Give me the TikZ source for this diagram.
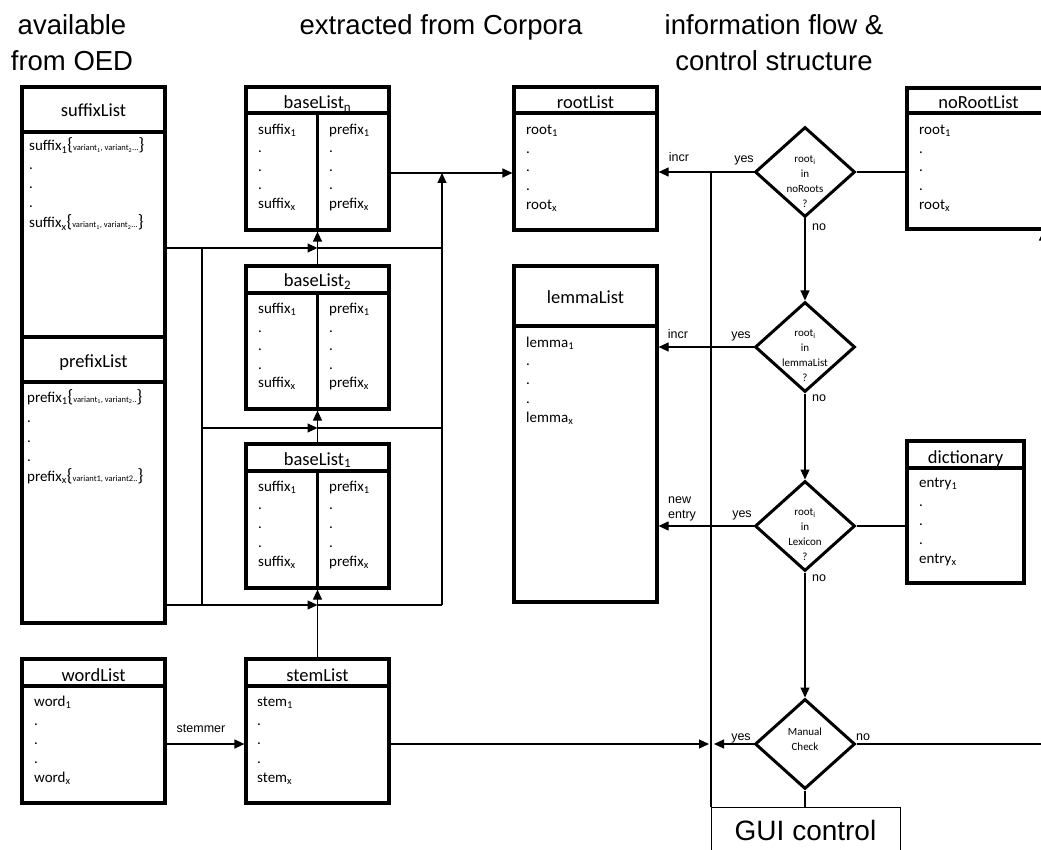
\documentclass[tikz,border=0pt]{standalone}
\usepackage{fontspec}
\setmainfont{Carlito}
\newfontfamily\arialf{Liberation Sans}
\usetikzlibrary{arrows.meta,shapes.geometric}
\newcommand\sbs[1]{\textsubscript{#1}}
\newcommand\varlist[1]{{\fontsize{18}{18}\selectfont\{}{\fontsize{8.5}{10}\selectfont #1}{\fontsize{18}{18}\selectfont\}}}
\newcommand\mkitems[5]{\foreach \t [count=\k from 0] in {#5} {\node[itm] (#1-\k) at (#2, #3+#4*\k) {\t};}}
\tikzset{
 lbox/.style={draw, line width=3.2pt, inner sep=0pt},
 divline/.style={line width=3.2pt},
 conn/.style={line width=1.2pt},
 arr/.style={conn, -{Triangle[length=10pt,width=9pt]}},
 ttl/.style={font=\fontsize{18.5}{20}\selectfont, inner sep=0pt, anchor=base},
 itm/.style={font=\fontsize{15}{18}\selectfont, inner sep=0pt, anchor=base west},
 lbl/.style={font=\arialf\fontsize{12.5}{15}\selectfont, inner sep=0pt, anchor=base},
 head/.style={font=\arialf\fontsize{27.5}{30}\selectfont, inner sep=0pt, anchor=base},
 dia/.style={draw, diamond, line width=3pt, minimum width=100pt, minimum height=90pt, inner sep=0pt},
 diatxt/.style={font=\fontsize{11}{15}\selectfont, align=center, inner sep=0pt},
}
\begin{document}
\begin{tikzpicture}[x=1pt,y=-1pt]
\useasboundingbox (0,0) rectangle (1041,850);
\fill[white] (0,0) rectangle (1041,850);

% headings
\node[head] (hA) at (72,35) {available};
\node[head] (hB) at (72,71) {from OED};
\node[head] (hC) at (441,35) {extracted from Corpora};
\node[head] (hD) at (774,35) {information flow \&};
\node[head] (hE) at (774,71) {control structure};

% suffixList / prefixList
\node[lbox, minimum width=143pt, minimum height=250pt] (suffixList) at (93.5,212) {};
\node[lbox, minimum width=143pt, minimum height=286pt] (prefixList) at (93.5,480) {};
\draw[divline] (22,132) -- (165,132);
\draw[divline] (22,382) -- (165,382);
\node[ttl] (suffixListT) at (93.5,117) {suffixList};
\node[ttl] (prefixListT) at (93.5,367) {prefixList};
\node[itm] (sl1) at (29,151) {suffix\sbs{1}\varlist{variant\sbs{1}, variant\sbs{2}...}};
\node[itm] (sl2) at (29,170) {.};
\node[itm] (sl3) at (29,189) {.};
\node[itm] (sl4) at (29,208) {.};
\node[itm] (sl5) at (29,228) {suffix\sbs{x}\varlist{variant\sbs{1}, variant\sbs{2}...}};
\node[itm] (pl1) at (27,402) {prefix\sbs{1}\varlist{variant\sbs{1}, variant\sbs{2}..}};
\node[itm] (pl2) at (27,422) {.};
\node[itm] (pl3) at (27,442) {.};
\node[itm] (pl4) at (27,461) {.};
\node[itm] (pl5) at (27,481) {prefix\sbs{x}\varlist{variant1, variant2..}};

% baseLists
\node[lbox, minimum width=143pt, minimum height=143pt] (baseN) at (317.5,158.5) {};
\draw[divline] (246,113) -- (389,113);
\draw[divline] (317.5,113) -- (317.5,230);
\node[ttl] (baseNT) at (317.5,108.5) {baseList\sbs{n}};
\mkitems{bNs}{258}{134.5}{18.5}{suffix\sbs{1},.,.,.,suffix\sbs{x}}
\mkitems{bNp}{329}{134.5}{18.5}{prefix\sbs{1},.,.,.,prefix\sbs{x}}

\node[lbox, minimum width=143pt, minimum height=143pt] (base2) at (317.5,337.5) {};
\draw[divline] (246,293) -- (389,293);
\draw[divline] (317.5,293) -- (317.5,409);
\node[ttl] (base2T) at (317.5,287) {baseList\sbs{2}};
\mkitems{b2s}{258}{313.5}{18.5}{suffix\sbs{1},.,.,.,suffix\sbs{x}}
\mkitems{b2p}{329}{313.5}{18.5}{prefix\sbs{1},.,.,.,prefix\sbs{x}}

\node[lbox, minimum width=143pt, minimum height=144pt] (base1) at (317.5,516) {};
\draw[divline] (246,471) -- (389,471);
\draw[divline] (317.5,471) -- (317.5,588);
\node[ttl] (base1T) at (317.5,465) {baseList\sbs{1}};
\mkitems{b1s}{258}{491}{18.75}{suffix\sbs{1},.,.,.,suffix\sbs{x}}
\mkitems{b1p}{329}{491}{18.75}{prefix\sbs{1},.,.,.,prefix\sbs{x}}

% rootList
\node[lbox, minimum width=143pt, minimum height=143pt] (rootList) at (585.5,158.5) {};
\draw[divline] (514,113) -- (657,113);
\node[ttl] (rootListT) at (585.5,108.5) {rootList};
\mkitems{rl}{526}{134.5}{18.75}{root\sbs{1},.,.,.,root\sbs{x}}

% lemmaList
\node[lbox, minimum width=143pt, minimum height=336pt] (lemmaList) at (585.5,434) {};
\draw[divline] (514,326) -- (657,326);
\node[ttl] (lemmaListT) at (585.5,304) {lemmaList};
\mkitems{ll}{526}{347}{18.75}{lemma\sbs{1},.,.,.,lemma\sbs{x}}

% noRootList
\node[lbox, minimum width=143pt, minimum height=141pt] (noRootList) at (978.5,158.5) {};
\draw[divline] (907,113) -- (1050,113);
\node[ttl] (noRootListT) at (978.5,109) {noRootList};
\mkitems{nl}{919}{134.5}{18.75}{root\sbs{1},.,.,.,root\sbs{x}}

% dictionary
\node[lbox, minimum width=117pt, minimum height=142pt] (dictionary) at (965.5,512) {};
\draw[divline] (907,468) -- (1024,468);
\node[ttl] (dictionaryT) at (965.5,463) {dictionary};
\mkitems{dl}{919}{487}{19}{entry\sbs{1},.,.,.,entry\sbs{x}}

% wordList / stemList
\node[lbox, minimum width=143pt, minimum height=144pt] (wordList) at (93.5,731) {};
\draw[divline] (22,686) -- (165,686);
\node[ttl] (wordListT) at (93.5,681) {wordList};
\mkitems{wl}{34}{706}{19}{word\sbs{1},.,.,.,word\sbs{x}}

\node[lbox, minimum width=143pt, minimum height=144pt] (stemList) at (317.5,731) {};
\draw[divline] (246,686) -- (389,686);
\node[ttl] (stemListT) at (317.5,681) {stemList};
\mkitems{stl}{257}{706}{19}{stem\sbs{1},.,.,.,stem\sbs{x}}

% diamonds
\node[dia] (d1) at (805,172) {};
\node[dia] (d2) at (805,347) {};
\node[dia] (d3) at (805,526) {};
\node[dia] (d4) at (805,744) {};
\node[diatxt] (d1t) at (805,182) {root\sbs{i}\\in\\noRoots\\?};
\node[diatxt] (d2t) at (805,356) {root\sbs{i}\\in\\lemmaList\\?};
\node[diatxt] (d3t) at (805,535) {root\sbs{i}\\in\\Lexicon\\?};
\node[diatxt] (d4t) at (805,739) {Manual\\Check};

% GUI control
\node[draw, line width=1.2pt, minimum width=189pt, minimum height=80pt, inner sep=0pt, anchor=north west] (GUI) at (711,807) {};
\node[font=\arialf\fontsize{28}{30}\selectfont, inner sep=0pt, anchor=base] (guiT) at (805.5,840) {GUI control};

% coordinates
\coordinate (jA) at (442,248);
\coordinate (jB) at (442,428);
\coordinate (jC) at (442,605);
\coordinate (jTop) at (442,173);
\coordinate (vA) at (202,248);
\coordinate (vB) at (202,428);
\coordinate (vC) at (202,605);
\coordinate (sRow) at (709,744);
\coordinate (yesTip) at (714,744);
\coordinate (rEdge) at (1043.5,744);

% left connectors
\draw[arr] (suffixList.east |- jA) -- (baseN.south |- jA);
\draw[conn] (baseN.south |- jA) -- (jA);
\draw[conn] (vA) -- (vC);
\draw[arr] (vB) -- (base2.south |- jB);
\draw[conn] (base2.south |- jB) -- (jB);
\draw[arr] (prefixList.east |- jC) -- (base1.south |- jC);
\draw[conn] (base1.south |- jC) -- (jC);
\draw[arr] (jC) -- (jTop);
\draw[arr] (baseN.east |- jTop) -- (rootList.west |- jTop);
\draw[arr] (stemList.north) -- (base1.south);
\draw[arr] (base1.north) -- (base2.south);
\draw[arr] (base2.north) -- (baseN.south);
\draw[arr] (wordList.east |- sRow) -- (stemList.west |- sRow);
\draw[arr] (stemList.east |- sRow) -- (sRow);
\node[lbl] (lStem) at (201,732) {stemmer};

% control flow
\draw[conn] (GUI.north west |- d1.west) -- (GUI.north west);
\draw[arr] (d1.west) -- (rootList.east |- d1.west);
\draw[conn] (d1.east) -- (noRootList.west |- d1.east);
\draw[arr] (d1.south) -- (d2.north);
\draw[arr] (d2.west) -- (lemmaList.east |- d2.west);
\draw[arr] (d2.south) -- (d3.north);
\draw[arr] (d3.west) -- (lemmaList.east |- d3.west);
\draw[conn] (d3.east) -- (dictionary.west |- d3.east);
\draw[arr] (d3.south) -- (d4.north);
\draw[arr] (d4.west) -- (yesTip);
\draw[conn] (d4.south) -- (GUI.north -| d4.south);
\draw[arr] (d4.east) -- (rEdge) -- (rEdge |- noRootList.south);

% labels
\node[lbl] (l1) at (679,162) {incr};
\node[lbl] (l2) at (744,163) {yes};
\node[lbl] (l3) at (819,231) {no};
\node[lbl] (l4) at (678,338) {incr};
\node[lbl] (l5) at (741,338) {yes};
\node[lbl] (l6) at (819,401) {no};
\node[lbl, align=left, anchor=west] (l7) at (668,509) {new\\entry};
\node[lbl] (l8) at (742,517) {yes};
\node[lbl] (l9) at (819,581) {no};
\node[lbl] (l10) at (741,740) {yes};
\node[lbl] (l11) at (863,740) {no};
\end{tikzpicture}
\end{document}
